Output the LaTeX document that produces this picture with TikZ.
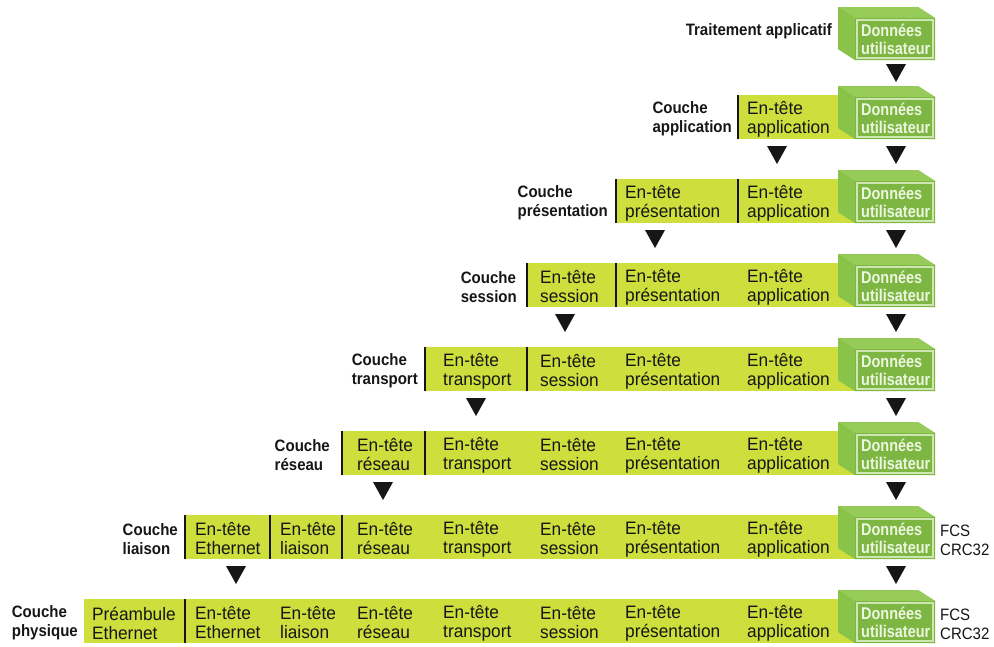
\documentclass[tikz,border=0pt]{standalone}
\usepackage{fontspec}
\setmainfont{Liberation Sans}
\newfontfamily\cellfont{Liberation Sans}[FakeStretch=0.96]
\newfontfamily\tagfont{Liberation Sans}[FakeStretch=0.91]
\newfontfamily\datafont{Liberation Sans}[FakeStretch=0.85]

\definecolor{ink}{RGB}{22,22,22}
\definecolor{band}{RGB}{206,222,60}
\definecolor{gfront}{RGB}{126,182,68}
\definecolor{gtop}{RGB}{150,203,90}
\definecolor{gside}{RGB}{138,195,74}
\definecolor{gedge}{RGB}{206,230,176}
\definecolor{gtext}{RGB}{236,246,222}

\tikzset{
  celltext/.style={anchor=west, align=left, inner sep=0pt,
    font=\cellfont\fontsize{18}{19}\selectfont, text=ink},
  layerlabel/.style={anchor=east, align=left, inner sep=0pt,
    font=\tagfont\bfseries\fontsize{16.5}{19}\selectfont, text=ink},
  datatext/.style={anchor=west, align=left, inner sep=0pt,
    font=\datafont\bfseries\fontsize{17}{18}\selectfont, text=gtext},
  trailer/.style={anchor=west, align=left, inner sep=0pt,
    font=\tagfont\fontsize{16.5}{19}\selectfont, text=ink},
  sepline/.style={draw=ink, line width=1.4pt},
}

% 3D "Données utilisateur" block: #1 node name, #2 vertical centre
\newcommand\userblock[2]{%
  \fill[gside] (838,#2-31) -- (918,#2-31) -- (935,#2-20) -- (935,#2+22)
     -- (855,#2+22) -- (838,#2+11) -- cycle;
  \fill[gtop] (838,#2-31) -- (918,#2-31) -- (935,#2-20) -- (855,#2-20) -- cycle;
  \fill[gside] (838,#2-31) -- (855,#2-20) -- (855,#2+22) -- (838,#2+11) -- cycle;
  \fill[gfront] (855,#2-20) rectangle (935,#2+22);
  \draw[gedge, line width=1.3pt] (857,#2-18) rectangle (933,#2+20);
  \node[datatext] (#1) at (861,#2+1.5) {Données\\utilisateur};
}
% downward marker: #1 x, #2 y of its centre
\newcommand\downmark[2]{%
  \fill[ink] (#1-10,#2-9) -- (#1+10,#2-9) -- (#1,#2+9) -- cycle;
}
% yellow header band: #1 left x, #2 vertical centre
\newcommand\headband[2]{%
  \fill[band] (#1,#2-22) rectangle (855,#2+22);
}
% vertical separator: #1 x, #2 vertical centre
\newcommand\cellsep[2]{%
  \draw[sepline] (#1,#2-22) -- (#1,#2+22);
}

\begin{document}
\begin{tikzpicture}[x=1pt, y=-1pt]
\useasboundingbox (0,0) rectangle (994,646);
\fill[white] (0,0) rectangle (994,646);

% ---- Traitement applicatif
\node[layerlabel] (lbl0) at (832,31) {Traitement applicatif};
\userblock{ud0}{38}
\downmark{896}{73}

% ---- Couche application
\headband{738}{117}
\cellsep{738}{117}
\node[layerlabel] (lbl1) at (732,119) {Couche\\application};
\node[celltext] (r1app) at (747,119) {En-tête\\application};
\userblock{ud1}{117}
\downmark{777}{155}
\downmark{896}{155}

% ---- Couche présentation
\headband{616}{201}
\cellsep{616}{201}
\cellsep{738}{201}
\node[layerlabel] (lbl2) at (608,203) {Couche\\présentation};
\node[celltext] (r2pre) at (625,203) {En-tête\\présentation};
\node[celltext] (r2app) at (747,203) {En-tête\\application};
\userblock{ud2}{201}
\downmark{655}{239}
\downmark{896}{239}

% ---- Couche session
\headband{527}{285}
\cellsep{527}{285}
\cellsep{616}{285}
\node[layerlabel] (lbl3) at (517,287) {Couche\\session};
\node[celltext] (r3ses) at (540,287) {En-tête\\session};
\node[celltext] (r3pre) at (625,287) {En-tête\\présentation};
\node[celltext] (r3app) at (747,287) {En-tête\\application};
\userblock{ud3}{285}
\downmark{565}{323}
\downmark{896}{323}

% ---- Couche transport
\headband{425}{369}
\cellsep{425}{369}
\cellsep{527}{369}
\node[layerlabel] (lbl4) at (418,371) {Couche\\transport};
\node[celltext] (r4tra) at (443,371) {En-tête\\transport};
\node[celltext] (r4ses) at (540,371) {En-tête\\session};
\node[celltext] (r4pre) at (625,371) {En-tête\\présentation};
\node[celltext] (r4app) at (747,371) {En-tête\\application};
\userblock{ud4}{369}
\downmark{476}{407}
\downmark{896}{407}

% ---- Couche réseau
\headband{342}{453}
\cellsep{342}{453}
\cellsep{425}{453}
\node[layerlabel] (lbl5) at (330,455) {Couche\\réseau};
\node[celltext] (r5res) at (357,455) {En-tête\\réseau};
\node[celltext] (r5tra) at (443,455) {En-tête\\transport};
\node[celltext] (r5ses) at (540,455) {En-tête\\session};
\node[celltext] (r5pre) at (625,455) {En-tête\\présentation};
\node[celltext] (r5app) at (747,455) {En-tête\\application};
\userblock{ud5}{453}
\downmark{383}{491}
\downmark{896}{491}

% ---- Couche liaison
\headband{185}{537}
\cellsep{185}{537}
\cellsep{270}{537}
\cellsep{342}{537}
\node[layerlabel] (lbl6) at (178,539) {Couche\\liaison};
\node[celltext] (r6eth) at (195,539) {En-tête\\Ethernet};
\node[celltext] (r6lia) at (280,539) {En-tête\\liaison};
\node[celltext] (r6res) at (357,539) {En-tête\\réseau};
\node[celltext] (r6tra) at (443,539) {En-tête\\transport};
\node[celltext] (r6ses) at (540,539) {En-tête\\session};
\node[celltext] (r6pre) at (625,539) {En-tête\\présentation};
\node[celltext] (r6app) at (747,539) {En-tête\\application};
\userblock{ud6}{537}
\node[trailer] (fcs6) at (940,540) {FCS\\CRC32};
\downmark{236}{575}
\downmark{896}{575}

% ---- Couche physique
\headband{84}{621}
\cellsep{185}{621}
\node[layerlabel] (lbl7) at (78,623) {Couche\\physique};
\node[celltext] (r7pre) at (92,623) {Préambule\\Ethernet};
\node[celltext] (r7eth) at (195,623) {En-tête\\Ethernet};
\node[celltext] (r7lia) at (280,623) {En-tête\\liaison};
\node[celltext] (r7res) at (357,623) {En-tête\\réseau};
\node[celltext] (r7tra) at (443,623) {En-tête\\transport};
\node[celltext] (r7ses) at (540,623) {En-tête\\session};
\node[celltext] (r7pre2) at (625,623) {En-tête\\présentation};
\node[celltext] (r7app) at (747,623) {En-tête\\application};
\userblock{ud7}{621}
\node[trailer] (fcs7) at (940,624) {FCS\\CRC32};
\end{tikzpicture}
\end{document}
